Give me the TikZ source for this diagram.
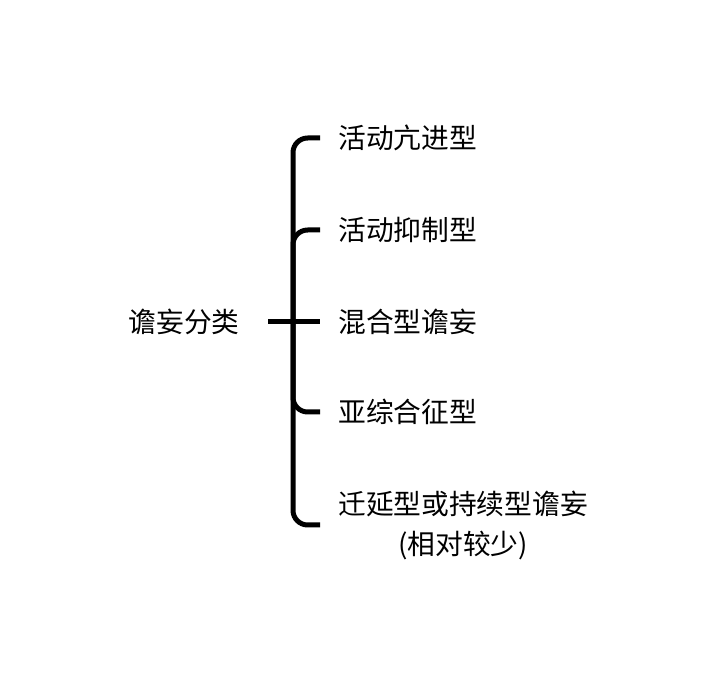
\documentclass[tikz,border=0pt]{standalone}
\usepackage{fontspec}
\setmainfont{Noto Sans CJK SC}
\usetikzlibrary{positioning}

\begin{document}
\begin{tikzpicture}[x=0.75pt, y=-0.75pt]
        % --- STILI ---
        \tikzset{
            rootnode/.style={anchor=east, inner xsep=21pt, inner ysep=0pt, font=\fontsize{20.8}{30}\selectfont},
            leaf/.style={anchor=west, inner xsep=13.5pt, inner ysep=0pt, align=center, font=\fontsize{20.8}{30}\selectfont},
            branch/.style={line width=3.75pt, rounded corners=11pt}
        }
        \useasboundingbox (0,0) rectangle (708,684);

        % --- NODI ---
        \node [rootnode] (root) at (268,322) {谵妄分类};
        \coordinate (hub) at (293,322);

        \node [leaf] (hyper) at (320,138) {活动亢进型};
        \node [leaf] (hypo) at (320,230) {活动抑制型};
        \node [leaf] (mixed) at (320,322) {混合型谵妄};
        \node [leaf] (subsyn) at (320,412) {亚综合征型};
        \node [leaf] (persist) at (320,525) {迁延型或持续型谵妄\\(相对较少)};

        % --- CONNESSIONI ---
        \draw [branch] (root.east) -- (mixed.west);
        \draw [branch] (hub) |- (hyper.west);
        \draw [branch] (hub) |- (hypo.west);
        \draw [branch] (hub) |- (subsyn.west);
        \draw [branch] (hub) |- (persist.west);

    \end{tikzpicture}
\end{document}
